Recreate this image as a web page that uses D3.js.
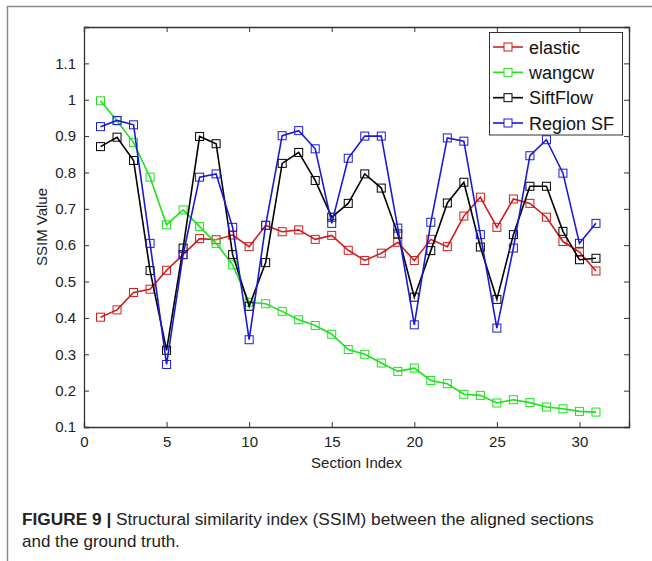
<!DOCTYPE html>
<html>
<head>
<meta charset="utf-8">
<script src="https://cdn.jsdelivr.net/npm/d3@7"></script>
<style>
  html, body { margin: 0; padding: 0; background: #fff; }
  svg { display: block; font-family: "Liberation Sans", Arial, sans-serif; }
</style>
</head>
<body>
<svg id="chart" width="652" height="561"></svg>
<script>
const sections = d3.range(1, 32);
const elastic = [0.402,0.422,0.470,0.479,0.531,0.574,0.618,0.615,0.628,0.596,0.654,0.637,0.642,0.616,0.627,0.586,0.558,0.578,0.608,0.558,0.616,0.596,0.680,0.732,0.649,0.727,0.715,0.677,0.610,0.581,0.529];
const wangcw = [0.997,0.942,0.882,0.787,0.656,0.697,0.651,0.605,0.546,0.443,0.439,0.418,0.395,0.379,0.355,0.313,0.300,0.276,0.253,0.262,0.228,0.219,0.190,0.187,0.166,0.175,0.167,0.155,0.150,0.143,0.141];
const siftflow = [0.871,0.897,0.833,0.530,0.311,0.592,0.899,0.879,0.574,0.432,0.552,0.825,0.855,0.778,0.677,0.715,0.796,0.757,0.631,0.457,0.585,0.716,0.773,0.595,0.451,0.629,0.762,0.762,0.638,0.560,0.564];
const regionSF = [0.926,0.943,0.931,0.605,0.272,0.574,0.787,0.796,0.649,0.340,0.655,0.901,0.915,0.865,0.660,0.839,0.900,0.900,0.647,0.381,0.663,0.895,0.886,0.629,0.372,0.592,0.846,0.890,0.798,0.605,0.660];
const seriesNames = ["elastic", "wangcw", "SiftFlow", "Region SF"];
const seriesColors = ["#d01c1c", "#1ee01e", "#000000", "#1a1ad6"];
const xTicks = [0, 5, 10, 15, 20, 25, 30];
const yTicks = [0.1, 0.2, 0.3, 0.4, 0.5, 0.6, 0.7, 0.8, 0.9, 1, 1.1];

const series = [elastic, wangcw, siftflow, regionSF].map((vals, k) => ({
  name: seriesNames[k], color: seriesColors[k],
  points: vals.map((v, i) => ({x: sections[i], y: v}))
}));

const svg = d3.select("#chart");
const L = 84, R = 629, T = 27, B = 427;
const x = d3.scaleLinear().domain([0, 33]).range([L, R]);
const y = d3.scaleLinear().domain([0.1, 1.2]).range([B, T]);

// outer figure frame
svg.append("path").attr("d", "M7.5,561 L7.5,6.5 L652,6.5")
  .attr("fill", "none").attr("stroke", "#8a8a8a").attr("stroke-width", 1.5);

// axes (ticks inside, box on)
const tickLen = 5;
const bottomAxis = d3.axisBottom(x).tickValues(xTicks).tickSize(-tickLen).tickPadding(9).tickFormat(d3.format("d"));
const topAxis = d3.axisTop(x).tickValues(xTicks).tickSize(-tickLen).tickFormat("");
const leftAxis = d3.axisLeft(y).tickValues(yTicks).tickSize(-tickLen).tickPadding(8).tickFormat(d => d3.format("")(+d.toFixed(1)));
const rightAxis = d3.axisRight(y).tickValues(yTicks).tickSize(-tickLen).tickFormat("");

function styleAxis(g) {
  g.select(".domain").attr("stroke", "#333").attr("stroke-width", 1.3);
  g.selectAll(".tick line").attr("stroke", "#333").attr("stroke-width", 1);
  g.selectAll(".tick text").attr("fill", "#222").style("font-size", "15px")
    .style("font-family", "'Liberation Sans', Arial, sans-serif");
}
svg.append("g").attr("transform", `translate(0,${B})`).call(bottomAxis).call(styleAxis);
svg.append("g").attr("transform", `translate(0,${T})`).call(topAxis).call(styleAxis);
svg.append("g").attr("transform", `translate(${L},0)`).call(leftAxis).call(styleAxis);
svg.append("g").attr("transform", `translate(${R},0)`).call(rightAxis).call(styleAxis);

// axis labels
svg.append("text").attr("x", (L + R) / 2).attr("y", 468).attr("text-anchor", "middle")
  .style("font-size", "15px").attr("fill", "#222").text("Section Index");
svg.append("text").attr("transform", `translate(47,${(T + B) / 2}) rotate(-90)`)
  .attr("text-anchor", "middle").style("font-size", "15px").attr("fill", "#222").text("SSIM Value");

// lines and markers
const line = d3.line().x(d => x(d.x)).y(d => y(d.y));
const ms = 8;
series.forEach(s => {
  const g = svg.append("g");
  g.append("path").datum(s.points).attr("d", line)
    .attr("fill", "none").attr("stroke", s.color).attr("stroke-width", 1.6);
  g.selectAll("rect").data(s.points).join("rect")
    .attr("x", d => x(d.x) - ms / 2).attr("y", d => y(d.y) - ms / 2)
    .attr("width", ms).attr("height", ms)
    .attr("fill", "none").attr("stroke", s.color).attr("stroke-width", 1);
});

// legend
const lg = svg.append("g");
lg.append("rect").attr("x", 489.5).attr("y", 32.5).attr("width", 133).attr("height", 102.5)
  .attr("fill", "#fff").attr("stroke", "#333").attr("stroke-width", 1);
const legendY = d3.scalePoint().domain(seriesNames).range([47, 123]);
series.forEach(s => {
  const yy = legendY(s.name);
  lg.append("line").attr("x1", 493).attr("x2", 523).attr("y1", yy).attr("y2", yy)
    .attr("stroke", s.color).attr("stroke-width", 1.6);
  lg.append("rect").attr("x", 508 - ms / 2).attr("y", yy - ms / 2).attr("width", ms).attr("height", ms)
    .attr("fill", "#fff").attr("stroke", s.color).attr("stroke-width", 1);
  lg.append("text").attr("x", 529).attr("y", yy + 6.5).style("font-size", "18px")
    .attr("fill", "#111").text(s.name);
});

// caption
const cap1 = svg.append("text").attr("x", 0).attr("y", 0).style("font-size", "17px").attr("fill", "#222");
cap1.append("tspan").style("font-weight", "bold").text("FIGURE 9 | ");
cap1.append("tspan").text("Structural similarity index (SSIM) between the aligned sections");
const cap2 = svg.append("text").attr("x", 0).attr("y", 0).style("font-size", "17px").attr("fill", "#222")
  .text("and the ground truth.");
function fit(t, x0, yb, w) {
  const cw = t.node().getComputedTextLength();
  t.attr("transform", `translate(${x0},${yb}) scale(${w / cw},1)`);
}
fit(cap1, 22, 525, 572);
cap2.attr("transform", "translate(22,547)");
</script>
</body>
</html>
